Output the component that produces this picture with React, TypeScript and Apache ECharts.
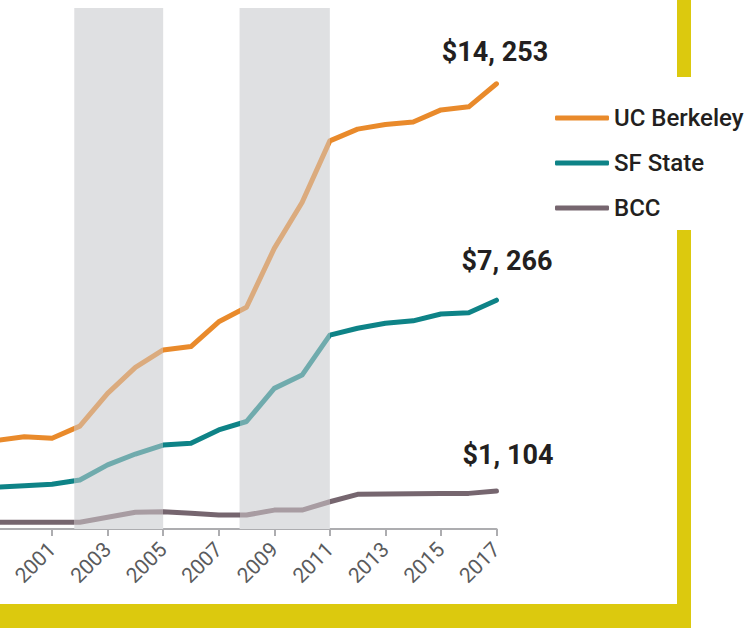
import React, { useEffect, useRef } from "react";
import * as echarts from "echarts";

const years = [1999, 2000, 2001, 2002, 2003, 2004, 2005, 2006, 2007, 2008, 2009, 2010, 2011, 2012, 2013, 2014, 2015, 2016, 2017];
const ucBerkeley = [2740, 2860, 2810, 3200, 4260, 5100, 5660, 5770, 6570, 7040, 8940, 10420, 12410, 12790, 12940, 13020, 13410, 13510, 14253];
const sfState = [1230, 1280, 1325, 1460, 1950, 2300, 2590, 2650, 3080, 3350, 4420, 4850, 6140, 6360, 6520, 6600, 6820, 6860, 7266];
const bcc = [100, 100, 100, 100, 260, 420, 440, 390, 330, 330, 490, 490, 760, 1000, 1010, 1020, 1030, 1030, 1104];
const seriesNames = ["UC Berkeley", "SF State", "BCC"];
const endLabels = ["$14, 253", "$7, 266", "$1, 104"];
const shadedPeriods = [
  [2001.8, 2005],
  [2007.75, 2011],
];

const colors = ["#E98A2B", "#0E8387", "#76666F"];
const fadedColors = ["#DBAB7E", "#70ABAD", "#A89CA2"];
const labelPos = [
  [-1.5, -32],
  [10.5, -39],
  [11.5, -36],
];

export default function App() {
  const ref = useRef<HTMLDivElement>(null);
  useEffect(() => {
    if (!ref.current) return;
    const chart = echarts.init(ref.current, undefined, { renderer: "svg" });
    const allValues = [ucBerkeley, sfState, bcc];
    const series: any[] = allValues.map((vals, si) => ({
      name: seriesNames[si],
      type: "line",
      z: 3,
      showSymbol: true,
      symbol: "circle",
      symbolSize: 0,
      silent: true,
      lineStyle: { width: 5, cap: "round", join: "round" },
      itemStyle: { color: colors[si] },
      label: { show: false },
      data: vals.map((v, i) =>
        i === vals.length - 1
          ? {
              value: [years[i], v],
              label: {
                show: true,
                formatter: endLabels[si],
                position: labelPos[si],
                align: "center",
                verticalAlign: "middle",
                fontFamily: "Roboto",
                fontWeight: "bold",
                fontSize: 27,
                color: "#231F20",
              },
            }
          : [years[i], v]
      ),
    }));
    series.push({
      name: "",
      type: "line",
      data: [],
      silent: true,
      markArea: {
        silent: true,
        itemStyle: { color: "#DFE0E2" },
        data: shadedPeriods.map((p) => [{ xAxis: p[0] }, { xAxis: p[1] }]),
      },
    });
    const visualMap = [0, 1, 2].map((si) => ({
      type: "piecewise",
      show: false,
      seriesIndex: si,
      dimension: 0,
      pieces: [
        { lt: shadedPeriods[0][0], color: colors[si] },
        { gte: shadedPeriods[0][0], lt: shadedPeriods[0][1], color: fadedColors[si] },
        { gte: shadedPeriods[0][1], lt: shadedPeriods[1][0], color: colors[si] },
        { gte: shadedPeriods[1][0], lt: shadedPeriods[1][1], color: fadedColors[si] },
        { gte: shadedPeriods[1][1], color: colors[si] },
      ],
    }));
    chart.setOption({
      animation: false,
      backgroundColor: "#FFFFFF",
      grid: { left: -3.5, right: 248.5, top: 8, bottom: 99, containLabel: false, outerBoundsMode: "none" },
      xAxis: {
        type: "value",
        min: 1999,
        max: 2017,
        interval: 2,
        splitLine: { show: false },
        axisLine: { show: true, onZero: false, lineStyle: { color: "#ADADB0", width: 2 } },
        axisTick: { show: true, length: 7, lineStyle: { color: "#ADADB0", width: 2 } },
        axisLabel: {
          rotate: 45,
          margin: 17,
          color: "#5A5B5D",
          fontSize: 21,
          fontFamily: "Roboto",
          showMinLabel: false,
          formatter: (v: number) => String(v),
        },
      },
      yAxis: { type: "value", min: -120, max: 16700, show: false, splitLine: { show: false } },
      legend: {
        orient: "vertical",
        left: 550,
        top: 101,
        itemWidth: 54,
        itemHeight: 5,
        itemGap: 21,
        icon: "roundRect",
        selectedMode: false,
        textStyle: { fontFamily: "Roboto", fontSize: 24, fontWeight: 500, color: "#231F20", lineHeight: 23 },
        data: seriesNames.map((n, i) => ({ name: n, itemStyle: { color: colors[i] } })),
      },
      visualMap,
      graphic: [
        { type: "rect", left: 677, top: 0, shape: { width: 14, height: 77 }, style: { fill: "#DCC90E" } },
        { type: "rect", left: 677, top: 230, shape: { width: 14, height: 398 }, style: { fill: "#DCC90E" } },
        { type: "rect", left: 0, top: 604, shape: { width: 691, height: 24 }, style: { fill: "#DCC90E" } },
      ],
      series,
    });
    return () => chart.dispose();
  }, []);
  return (
    <div
      ref={ref}
      style={{ position: "absolute", left: 0, top: 0, width: 745, height: 628 }}
    />
  );
}
